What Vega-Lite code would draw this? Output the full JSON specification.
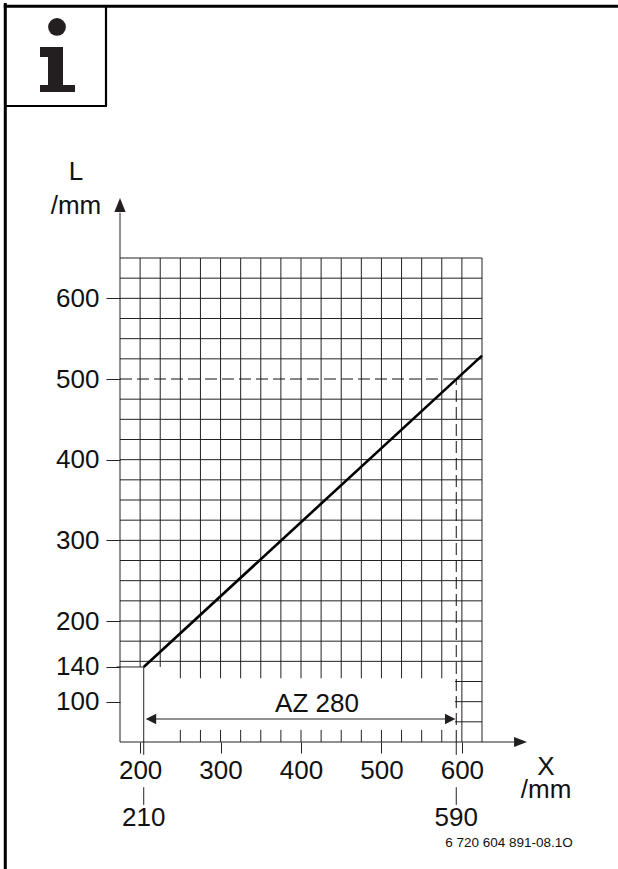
{
"$schema":"https://vega.github.io/schema/vega-lite/v6.json",
"width":362,"height":484,
"autosize":{"type":"none"},
"padding":{"left":120,"top":258,"right":136,"bottom":127},
"background":"white",
"config":{"view":{"stroke":null},"text":{"font":"Liberation Sans"},"axis":{"labelFont":"Liberation Sans"}},
"encoding":{
"x":{"field":"x","type":"quantitative","scale":{"domain":[175,625],"nice":false,"zero":false},
"axis":{"title":null,"values":[200,300,400,500,600],"grid":false,"domain":false,"tickSize":11,"tickColor":"#222","tickWidth":1,"labelFontSize":26,"labelColor":"#111","labelPadding":4,"labelFlush":false,"labelOverlap":false}},
"y":{"field":"y","type":"quantitative","scale":{"domain":[50,650],"nice":false,"zero":false},
"axis":{"title":null,"values":[100,143,200,300,400,500,600],"labelExpr":"datum.value==143?'140':datum.label","grid":false,"domain":false,"tickSize":14,"tickColor":"#222","tickWidth":1,"labelFontSize":26,"labelColor":"#111","labelPadding":7,"labelOverlap":false}}
},
"layer":[
{"data":{"values":[
{"x":175,"y":50,"y2":706},{"x":200,"y":143,"y2":650},{"x":225,"y":143,"y2":650},
{"x":250,"y":129,"y2":650},{"x":275,"y":129,"y2":650},{"x":300,"y":129,"y2":650},{"x":325,"y":129,"y2":650},{"x":350,"y":129,"y2":650},{"x":375,"y":129,"y2":650},{"x":400,"y":129,"y2":650},{"x":425,"y":129,"y2":650},{"x":450,"y":129,"y2":650},{"x":475,"y":129,"y2":650},{"x":500,"y":129,"y2":650},{"x":525,"y":129,"y2":650},{"x":550,"y":129,"y2":650},{"x":575,"y":129,"y2":650},
{"x":600,"y":50,"y2":650},{"x":625,"y":50,"y2":650},
{"x":250,"y":50,"y2":65},{"x":275,"y":50,"y2":65},{"x":300,"y":50,"y2":65},{"x":325,"y":50,"y2":65},{"x":350,"y":50,"y2":65},{"x":375,"y":50,"y2":65},{"x":400,"y":50,"y2":65},{"x":425,"y":50,"y2":65},{"x":450,"y":50,"y2":65},{"x":475,"y":50,"y2":65},{"x":500,"y":50,"y2":65},{"x":525,"y":50,"y2":65},{"x":550,"y":50,"y2":65},{"x":575,"y":50,"y2":65},
{"x":204.5,"y":34,"y2":143},{"x":593,"y":34,"y2":50},
{"x":204.5,"y":-28,"y2":-6},{"x":593,"y":-28,"y2":-6}
]},"mark":{"type":"rule","stroke":"#222","strokeWidth":1},"encoding":{"y2":{"field":"y2"}}},
{"data":{"values":[
{"x":175,"x2":665,"y":50},
{"x":591.5,"x2":625,"y":75},{"x":591.5,"x2":625,"y":100},{"x":591.5,"x2":625,"y":125},
{"x":175,"x2":625,"y":150},{"x":175,"x2":625,"y":175},{"x":175,"x2":625,"y":200},{"x":175,"x2":625,"y":225},{"x":175,"x2":625,"y":250},{"x":175,"x2":625,"y":275},{"x":175,"x2":625,"y":300},{"x":175,"x2":625,"y":325},{"x":175,"x2":625,"y":350},{"x":175,"x2":625,"y":375},{"x":175,"x2":625,"y":400},{"x":175,"x2":625,"y":425},{"x":175,"x2":625,"y":450},{"x":175,"x2":625,"y":475},{"x":175,"x2":625,"y":525},{"x":175,"x2":625,"y":550},{"x":175,"x2":625,"y":575},{"x":175,"x2":625,"y":600},{"x":175,"x2":625,"y":625},{"x":175,"x2":625,"y":650},
{"x":593,"x2":625,"y":500},
{"x":171,"x2":204.5,"y":143},
{"x":215,"x2":585,"y":78.5}
]},"mark":{"type":"rule","stroke":"#222","strokeWidth":1},"encoding":{"x2":{"field":"x2"}}},
{"data":{"values":[{"x":175,"x2":593,"y":500}]},"mark":{"type":"rule","stroke":"#111","strokeWidth":1,"strokeDash":[12,5]},"encoding":{"x2":{"field":"x2"}}},
{"data":{"values":[{"x":593,"y":50,"y2":500}]},"mark":{"type":"rule","stroke":"#111","strokeWidth":1,"strokeDash":[12,5]},"encoding":{"y2":{"field":"y2"}}},
{"data":{"values":[{"x":204.5,"y":143},{"x":625,"y":529}]},"mark":{"type":"line","stroke":"#000","strokeWidth":2.6}},
{"data":{"values":[{"x":672.9,"y":50}]},"mark":{"type":"point","filled":true,"fill":"#231f20","stroke":null,"opacity":1,"size":169,"shape":"M-1,-0.77L1,0L-1,0.77Z"}},
{"data":{"values":[{"x":175,"y":715.7}]},"mark":{"type":"point","filled":true,"fill":"#231f20","stroke":null,"opacity":1,"size":196,"shape":"M-0.8,1L0,-1L0.8,1Z"}},
{"data":{"values":[{"x":585.5,"y":78.5}]},"mark":{"type":"point","filled":true,"fill":"#231f20","stroke":null,"opacity":1,"size":108,"shape":"M-1,-1L1,0L-1,1Z"}},
{"data":{"values":[{"x":213.5,"y":78.5}]},"mark":{"type":"point","filled":true,"fill":"#231f20","stroke":null,"opacity":1,"size":108,"shape":"M1,-1L-1,0L1,1Z"}},
{"data":{"values":[{"x":32.4,"y":-107.4,"y2":966}]},"mark":{"type":"rule","stroke":"#000","strokeWidth":3},"encoding":{"y2":{"field":"y2"}}},
{"data":{"values":[{"x":157.6,"y":838.4,"y2":962}]},"mark":{"type":"rule","stroke":"#000","strokeWidth":2.2},"encoding":{"y2":{"field":"y2"}}},
{"data":{"values":[{"x":30.5,"x2":794,"y":962}]},"mark":{"type":"rule","stroke":"#000","strokeWidth":3},"encoding":{"x2":{"field":"x2"}}},
{"data":{"values":[{"x":32.4,"x2":158.8,"y":838.4}]},"mark":{"type":"rule","stroke":"#000","strokeWidth":2.2},"encoding":{"x2":{"field":"x2"}}},
{"data":{"values":[{"x":96.7,"y":936.4}]},"mark":{"type":"point","filled":true,"fill":"#231f20","stroke":null,"opacity":1,"size":314,"shape":"circle"}},
{"data":{"values":[{"x":96.7,"y":883.1}]},"mark":{"type":"point","filled":true,"fill":"#231f20","stroke":null,"opacity":1,"size":400,"shape":"M-1.7,-2.3H0.6V1.5H1.8V2.2H-1.7V1.5H-0.9V-1.3H-1.7Z"}},
{"data":{"values":[
{"x":204.5,"y":-44.2,"t":"210"},{"x":593,"y":-44.2,"t":"590"},
{"x":704.6,"y":-9.5,"t":"/mm"},{"x":704.6,"y":19.4,"t":"X"},{"x":120.3,"y":756.6,"t":"L"},{"x":120.3,"y":714.5,"t":"/mm"},{"x":419.9,"y":97.5,"t":"AZ 280"}
]},"mark":{"type":"text","fontSize":26,"fill":"#111","align":"center","baseline":"middle"},"encoding":{"text":{"field":"t"}}},
{"data":{"values":[{"x":658.6,"y":-75.7,"t":"6 720 604 891-08.1O"}]},"mark":{"type":"text","fontSize":13.5,"fill":"#111","align":"center","baseline":"middle"},"encoding":{"text":{"field":"t"}}}
]
}
